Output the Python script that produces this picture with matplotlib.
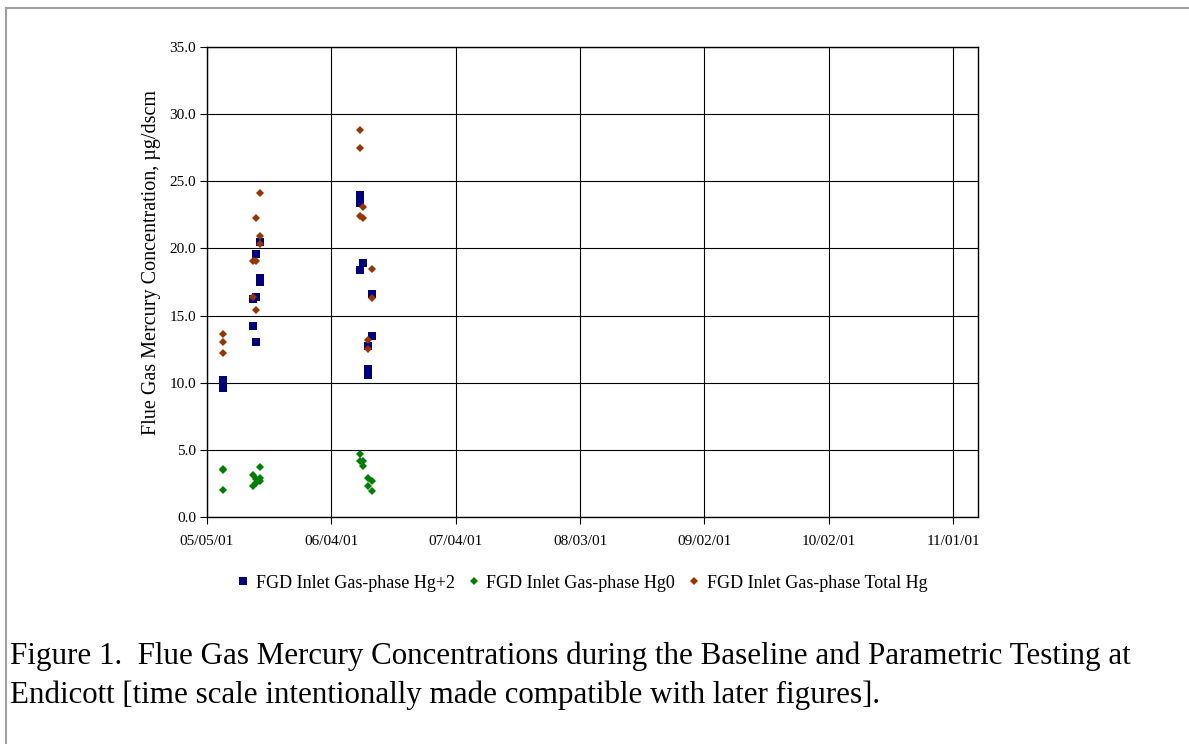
import matplotlib
matplotlib.use("Agg")
import matplotlib.pyplot as plt
import matplotlib.dates as mdates
from matplotlib.lines import Line2D
import numpy as np

plt.rcParams['font.family'] = ['Liberation Serif', 'DejaVu Serif']

# ---- data ----
hg2_dates = ["2001-05-08 22:00"] * 3 + ["2001-05-16 00:00"] * 2 + ["2001-05-16 19:00"] * 3 + \
            ["2001-05-17 19:00"] * 3 + ["2001-06-10 22:00"] * 4 + ["2001-06-11 17:00"] + \
            ["2001-06-12 23:00"] * 3 + ["2001-06-13 21:00"] * 2
hg2_values = [10.2, 9.9, 9.6,
              14.2, 16.2,
              13.0, 16.4, 19.6,
              20.5, 17.8, 17.5,
              24.0, 23.7, 23.4, 18.4,
              18.9,
              12.7, 11.0, 10.6,
              16.6, 13.5]

hg0_dates = ["2001-05-08 22:00"] * 3 + ["2001-05-16 00:00"] * 2 + ["2001-05-16 19:00"] * 2 + \
            ["2001-05-17 19:00"] * 3 + ["2001-06-10 22:00"] * 2 + ["2001-06-11 17:00"] * 2 + \
            ["2001-06-12 22:00"] * 2 + ["2001-06-13 17:00"] * 2
hg0_values = [3.6, 3.5, 2.0,
              3.1, 2.3,
              2.8, 2.5,
              3.7, 2.9, 2.7,
              4.7, 4.2,
              4.2, 3.8,
              2.9, 2.3,
              2.7, 1.9]

tot_dates = ["2001-05-08 22:00"] * 3 + ["2001-05-16 00:00"] * 2 + ["2001-05-16 19:00"] * 3 + \
            ["2001-05-17 19:00"] * 3 + ["2001-06-10 22:00"] * 3 + ["2001-06-11 17:00"] * 2 + \
            ["2001-06-12 22:00"] * 2 + ["2001-06-13 17:00"] * 2
tot_values = [13.6, 13.0, 12.2,
              19.1, 16.4,
              22.3, 19.1, 15.4,
              24.1, 20.9, 20.3,
              28.8, 27.5, 22.4,
              23.1, 22.3,
              13.2, 12.5,
              18.5, 16.3]

x_ticks = ["2001-05-05", "2001-06-04", "2001-07-04", "2001-08-03",
           "2001-09-02", "2001-10-02", "2001-11-01"]
x_min, x_max = "2001-05-05", "2001-11-07"
y_ticks = [0, 5, 10, 15, 20, 25, 30, 35]

series_names = ["FGD Inlet Gas-phase Hg+2", "FGD Inlet Gas-phase Hg0",
                "FGD Inlet Gas-phase Total Hg"]

def to_dt(lst):
    return np.array(lst, dtype="datetime64[m]")

fig = plt.figure(figsize=(11.89, 7.44), dpi=100)
ax = fig.add_axes([207/1189, 1-517/744, (978-207)/1189, (517-47)/744])

ax.plot(to_dt(hg2_dates), hg2_values, linestyle='none', marker='s', markersize=5.8,
        color='#000080', markeredgewidth=0, label=series_names[0], zorder=3)
ax.plot(to_dt(hg0_dates), hg0_values, linestyle='none', marker='D', markersize=3.7,
        color='#008000', markeredgewidth=0, label=series_names[1], zorder=4)
ax.plot(to_dt(tot_dates), tot_values, linestyle='none', marker='D', markersize=3.7,
        color='#993300', markeredgewidth=0, label=series_names[2], zorder=5)

ax.set_xlim(np.datetime64(x_min), np.datetime64(x_max))
ax.set_ylim(0, 35)
ax.set_xticks(to_dt(x_ticks))
ax.xaxis.set_major_formatter(mdates.DateFormatter('%m/%d/%y'))
ax.set_yticks(y_ticks)
ax.set_yticklabels([f"{v:.1f}" for v in y_ticks])
ax.grid(True, color='black', linewidth=0.8)
ax.set_axisbelow(True)
for s in ax.spines.values():
    s.set_color('black')
    s.set_linewidth(1.0)
ax.tick_params(axis='both', direction='out', length=5, width=0.8, labelsize=11,
               colors='black')
ax.tick_params(axis='x', pad=8)
ax.tick_params(axis='y', pad=3)
ax.set_ylabel("Flue Gas Mercury Concentration, µg/dscm", fontsize=14.5)
ax.yaxis.set_label_coords(-0.06, (517-262)/470)

handles = [Line2D([], [], linestyle='none', marker='s', markersize=5.5, color='#000080',
                  markeredgewidth=0),
           Line2D([], [], linestyle='none', marker='D', markersize=4, color='#008000',
                  markeredgewidth=0),
           Line2D([], [], linestyle='none', marker='D', markersize=4, color='#993300',
                  markeredgewidth=0)]
fig.legend(handles, series_names, loc='center', bbox_to_anchor=(582/1189, 1-583/744),
           ncol=3, frameon=False, fontsize=13, handlelength=0.7, handletextpad=0.35,
           columnspacing=0.7)

fig.text(10/1189, 1-664/744,
         "Figure 1.  Flue Gas Mercury Concentrations during the Baseline and Parametric Testing at",
         fontsize=22.3, ha='left', va='baseline')
fig.text(10/1189, 1-703/744,
         "Endicott [time scale intentionally made compatible with later figures].",
         fontsize=22.3, ha='left', va='baseline')

# outer frame lines
fig.add_artist(Line2D([6/1189, 1.0], [1-8/744, 1-8/744], color='#a0a0a0', linewidth=1.5,
                      transform=fig.transFigure))
fig.add_artist(Line2D([6/1189, 6/1189], [1-8/744, 0.0], color='#a0a0a0', linewidth=1.5,
                      transform=fig.transFigure))

fig.savefig("out.png", dpi=100, facecolor='white')
